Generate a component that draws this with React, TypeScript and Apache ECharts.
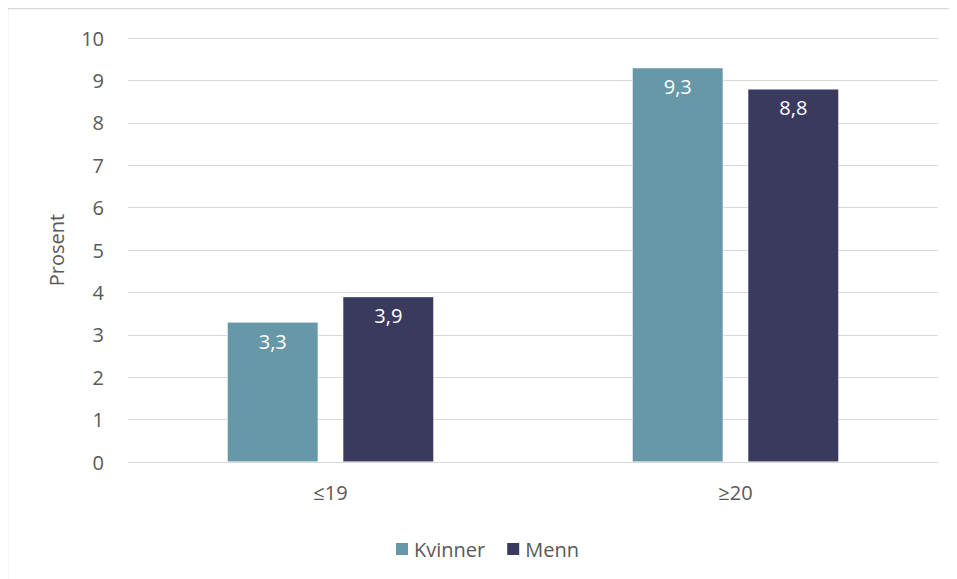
import React, { useEffect, useRef } from "react";
import * as echarts from "echarts";

const categories = ["≤19", "≥20"];
const kvinner = [3.3, 9.3];
const menn = [3.9, 8.8];
const seriesNames = ["Kvinner", "Menn"];

const FONT = "'Open Sans', 'Noto Sans', sans-serif";
const TEXT = "#595959";
const FS = 20;

export default function App() {
  const ref = useRef<HTMLDivElement>(null);
  useEffect(() => {
    if (!ref.current) return;
    const chart = echarts.init(ref.current, null, { renderer: "svg" });
    const label = {
      show: true,
      position: "insideTop",
      distance: 9,
      color: "#ffffff",
      fontSize: FS,
      fontFamily: FONT,
      formatter: (p: any) => String(p.value).replace(".", ","),
    };
    chart.setOption({
      animation: false,
      textStyle: { fontFamily: FONT },
      graphic: [
        {
          type: "line",
          shape: { x1: 0, y1: 0.5, x2: 950, y2: 0.5 },
          style: { stroke: "#d9d9d9", lineWidth: 1.5 },
          silent: true,
        },
        {
          type: "line",
          shape: { x1: 0.5, y1: 0, x2: 0.5, y2: 571 },
          style: { stroke: "#d9d9d9", lineWidth: 1.5 },
          silent: true,
        },
      ],
      grid: { left: 121, right: 19, top: 30, bottom: 117, containLabel: false },
      legend: {
        data: seriesNames,
        bottom: 15,
        left: 382,
        itemWidth: 14,
        itemHeight: 14,
        itemGap: 20,
        icon: "rect",
        textStyle: { color: TEXT, fontSize: FS, fontFamily: FONT },
      },
      xAxis: {
        type: "category",
        data: categories,
        axisLine: { show: true, lineStyle: { color: "#d9d9d9", width: 1 } },
        axisTick: { show: false },
        axisLabel: { color: TEXT, fontSize: FS, margin: 20, fontFamily: FONT },
      },
      yAxis: {
        type: "value",
        min: 0,
        max: 10,
        interval: 1,
        name: "Prosent",
        nameLocation: "middle",
        nameGap: 62,
        nameRotate: 90,
        nameTextStyle: { color: TEXT, fontSize: FS, fontFamily: FONT },
        axisLine: { show: false },
        axisTick: { show: false },
        axisLabel: { color: TEXT, fontSize: FS, margin: 24, fontFamily: FONT },
        splitLine: { lineStyle: { color: "#d9d9d9", width: 1 } },
      },
      series: [
        {
          name: seriesNames[0],
          type: "bar",
          data: kvinner,
          barWidth: 91,
          barGap: "27%",
          itemStyle: { color: "#6798a8", borderColor: "#ffffff", borderWidth: 0.5 },
          label,
        },
        {
          name: seriesNames[1],
          type: "bar",
          data: menn,
          barWidth: 91,
          itemStyle: { color: "#3a3a5f", borderColor: "#ffffff", borderWidth: 0.5 },
          label,
        },
      ],
    });
    return () => chart.dispose();
  }, []);
  return <div ref={ref} style={{ marginLeft: -1, width: 950, height: 571 }} />;
}
